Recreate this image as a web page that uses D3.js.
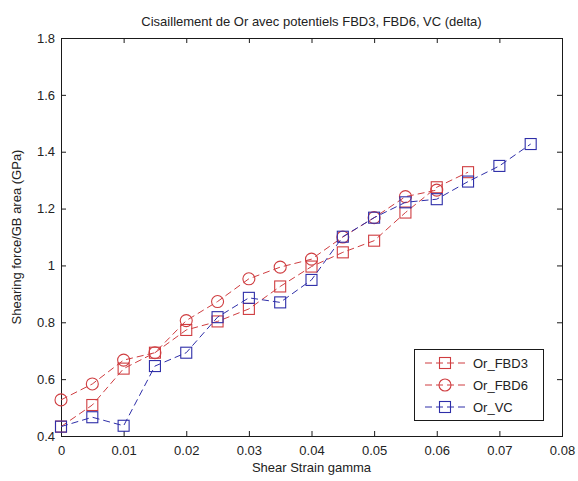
<!DOCTYPE html>
<html>
<head>
<meta charset="utf-8">
<script src="https://cdn.jsdelivr.net/npm/d3@7"></script>
<style>
  html, body { margin: 0; padding: 0; background: #fff; }
  svg { display: block; font-family: "Liberation Sans", Arial, sans-serif; }
</style>
</head>
<body>
<svg id="chart" width="578" height="481"></svg>
<script>
// Shear strain steps (gamma)
const strainFBD3 = [0, 0.005, 0.01, 0.015, 0.02, 0.025, 0.03, 0.035, 0.04, 0.045, 0.05, 0.055, 0.06, 0.065];
const strainFBD6 = [0, 0.005, 0.01, 0.015, 0.02, 0.025, 0.03, 0.035, 0.04, 0.045, 0.05, 0.055, 0.06];
const strainVC   = [0, 0.005, 0.01, 0.015, 0.02, 0.025, 0.03, 0.035, 0.04, 0.045, 0.05, 0.055, 0.06, 0.065, 0.07, 0.075];

// Shearing force per GB area (GPa)
const forceFBD3 = [0.433, 0.509, 0.637, 0.693, 0.773, 0.803, 0.847, 0.926, 0.996, 1.046, 1.087, 1.186, 1.275, 1.328];
const forceFBD6 = [0.527, 0.583, 0.667, 0.693, 0.806, 0.873, 0.953, 0.994, 1.022, 1.100, 1.168, 1.242, 1.265];
const forceVC   = [0.433, 0.466, 0.436, 0.646, 0.693, 0.818, 0.886, 0.870, 0.949, 1.101, 1.168, 1.222, 1.233, 1.295, 1.350, 1.427];

const seriesNames = ["Or_FBD3", "Or_FBD6", "Or_VC"];
const xTicks = [0, 0.01, 0.02, 0.03, 0.04, 0.05, 0.06, 0.07, 0.08];
const yTicks = [0.4, 0.6, 0.8, 1, 1.2, 1.4, 1.6, 1.8];

const titleText = "Cisaillement de Or avec potentiels FBD3, FBD6, VC (delta)";
const xLabelText = "Shear Strain gamma";
const yLabelText = "Shearing force/GB area (GPa)";

const RED = "#cf3d40";
const BLUE = "#2e2ea8";

const series = [
  { name: seriesNames[0], x: strainFBD3, y: forceFBD3, color: RED,  marker: "square" },
  { name: seriesNames[1], x: strainFBD6, y: forceFBD6, color: RED,  marker: "circle" },
  { name: seriesNames[2], x: strainVC,   y: forceVC,   color: BLUE, marker: "square" }
];

const svg = d3.select("#chart");
const plot = { left: 61, right: 562, top: 38, bottom: 436 };

const x = d3.scaleLinear().domain([0, 0.08]).range([plot.left, plot.right]);
const y = d3.scaleLinear().domain([0.4, 1.8]).range([plot.bottom, plot.top]);

const axisColor = "#1a1a1a";
const fmt = d => (d === 0 ? "0" : String(d));

// Axes with inward ticks on all four sides
const gx = svg.append("g").attr("transform", `translate(0,${plot.bottom})`)
  .call(d3.axisBottom(x).tickValues(xTicks).tickFormat(fmt).tickSizeInner(-5).tickSizeOuter(0).tickPadding(10));
const gxTop = svg.append("g").attr("transform", `translate(0,${plot.top})`)
  .call(d3.axisTop(x).tickValues(xTicks).tickFormat("").tickSizeInner(-5).tickSizeOuter(0));
const gy = svg.append("g").attr("transform", `translate(${plot.left},0)`)
  .call(d3.axisLeft(y).tickValues(yTicks).tickFormat(fmt).tickSizeInner(-5).tickSizeOuter(0).tickPadding(6));
const gyRight = svg.append("g").attr("transform", `translate(${plot.right},0)`)
  .call(d3.axisRight(y).tickValues(yTicks).tickFormat("").tickSizeInner(-5).tickSizeOuter(0));

[gx, gxTop, gy, gyRight].forEach(g => {
  g.select(".domain").remove();
  g.selectAll(".tick line").attr("stroke", axisColor).attr("stroke-width", 1);
  g.selectAll(".tick text").attr("fill", "#222").attr("font-size", 13)
    .attr("font-family", "'Liberation Sans', Arial, sans-serif");
});

// Box frame
svg.append("rect")
  .attr("x", plot.left + 0.5).attr("y", plot.top + 0.5)
  .attr("width", plot.right - plot.left).attr("height", plot.bottom - plot.top)
  .attr("fill", "none").attr("stroke", axisColor).attr("stroke-width", 1);

// Series lines and markers
const line = d3.line().x(d => x(d[0])).y(d => y(d[1]));

function drawMarker(g, kind, cx, cy, color) {
  if (kind === "square") {
    g.append("rect").attr("x", cx - 5.5).attr("y", cy - 5.5).attr("width", 11).attr("height", 11)
      .attr("fill", "none").attr("stroke", color).attr("stroke-width", 1.1);
  } else {
    g.append("circle").attr("cx", cx).attr("cy", cy).attr("r", 6)
      .attr("fill", "none").attr("stroke", color).attr("stroke-width", 1.1);
  }
}

series.forEach(s => {
  const pts = s.x.map((v, i) => [v, s.y[i]]);
  const g = svg.append("g");
  g.append("path").attr("d", line(pts)).attr("fill", "none")
    .attr("stroke", s.color).attr("stroke-width", 1).attr("stroke-dasharray", "7,4");
  pts.forEach(p => drawMarker(g, s.marker, x(p[0]), y(p[1]), s.color));
});

// Legend
const legend = svg.append("g");
legend.append("rect").attr("x", 414.5).attr("y", 349.5).attr("width", 129).attr("height", 71)
  .attr("fill", "#fff").attr("stroke", axisColor).attr("stroke-width", 1);
series.forEach((s, i) => {
  const ly = 363 + i * 22;
  legend.append("line").attr("x1", 425).attr("x2", 469).attr("y1", ly).attr("y2", ly)
    .attr("stroke", s.color).attr("stroke-width", 1).attr("stroke-dasharray", "7,4");
  drawMarker(legend, s.marker, 445, ly, s.color);
  legend.append("text").attr("x", 473).attr("y", ly + 4.5).attr("font-size", 13)
    .attr("fill", "#222").text(s.name);
});

// Title and axis labels
svg.append("text").attr("x", (plot.left + plot.right) / 2).attr("y", 26)
  .attr("text-anchor", "middle").attr("font-size", 13).attr("fill", "#222").text(titleText);
svg.append("text").attr("x", (plot.left + plot.right) / 2).attr("y", 472)
  .attr("text-anchor", "middle").attr("font-size", 13).attr("fill", "#222").text(xLabelText);
svg.append("text").attr("transform", `translate(21,${(plot.top + plot.bottom) / 2}) rotate(-90)`)
  .attr("text-anchor", "middle").attr("font-size", 13).attr("fill", "#222").text(yLabelText);
</script>
</body>
</html>
